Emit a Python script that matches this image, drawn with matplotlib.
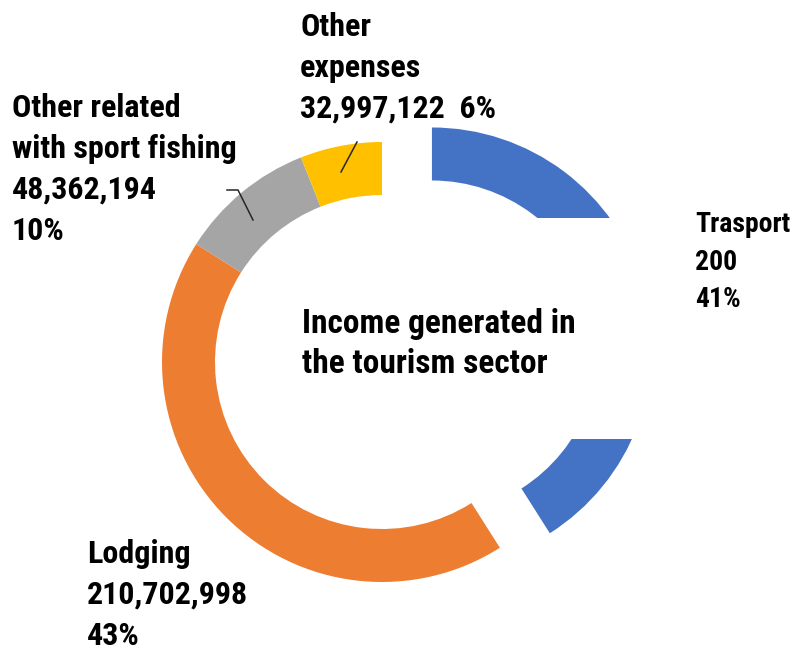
import matplotlib
matplotlib.use("Agg")
import matplotlib.pyplot as plt
from matplotlib.patches import Rectangle

W, H = 793, 650

categories = ["Trasport", "Lodging", "Other related\nwith sport fishing", "Other\nexpenses"]
amounts = ["200", "210,702,998", "48,362,194", "32,997,122"]
percents = [41, 43, 10, 6]
colors = ["#4472C4", "#ED7D31", "#A5A5A5", "#FFC000"]

FONT = ["Roboto Condensed", "PT Sans Narrow", "DejaVu Sans"]


def py(y):
    # pixel row (from top) -> data y (from bottom)
    return H - y


fig = plt.figure(figsize=(W / 100, H / 100), dpi=100)
ax = fig.add_axes([0, 0, 1, 1])

center = (382, py(362))
ax.pie(percents, colors=colors, startangle=90, counterclock=False,
       radius=220, center=center, explode=[52, 0, 0, 0],
       wedgeprops=dict(width=53, linewidth=0))
ax.set_xlim(0, W)
ax.set_ylim(0, H)
ax.set_aspect("equal")
ax.axis("off")

# white box behind the transport label
ax.add_patch(Rectangle((528, py(439)), W - 528, 439 - 218,
                       facecolor="white", edgecolor="none", zorder=3))

# leader lines
ax.plot([227, 238, 253], [py(190), py(190), py(220)], color="#262626", lw=1.1, zorder=4)
ax.plot([357, 341], [py(142), py(172)], color="#262626", lw=1.1, zorder=4)

# va="baseline" pins the last line's baseline
txt = dict(family=FONT, fontweight="bold", fontsize=23, color="black",
           va="baseline", ha="left", zorder=5, linespacing=1.46)

ax.text(12, py(240), f"{categories[2]}\n{amounts[2]}\n{percents[2]}%", **txt)
ax.text(300, py(118), f"{categories[3]}\n{amounts[3]}  {percents[3]}%", **txt)
ax.text(87, py(645), f"{categories[1]}\n{amounts[1]}\n{percents[1]}%", **txt)
ax.text(695, py(307), f"{categories[0]}\n{amounts[0]}\n{percents[0]}%",
        **{**txt, "fontsize": 20, "linespacing": 1.5})

ax.text(302, py(373), "Income generated in\nthe tourism sector",
        family=FONT, fontweight="bold", fontsize=24, color="black",
        va="baseline", ha="left", zorder=5, linespacing=1.33)

fig.savefig("out.png", dpi=100)
